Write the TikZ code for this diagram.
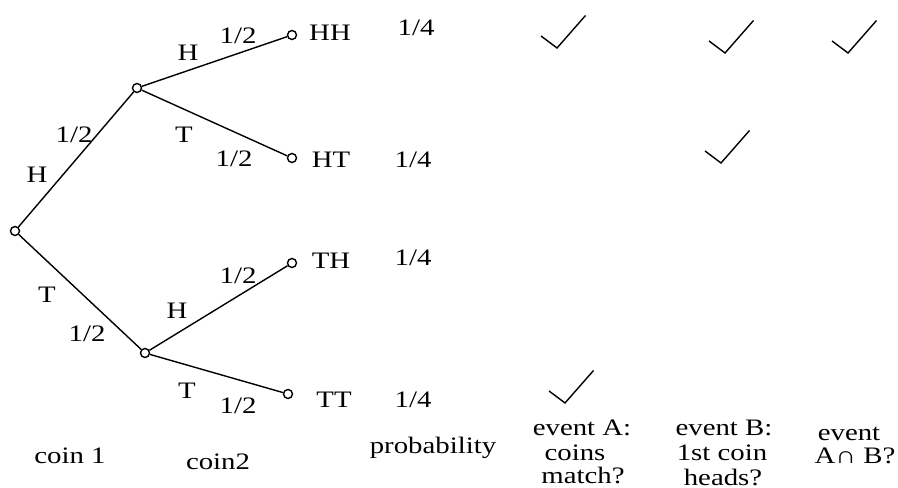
\documentclass[tikz,border=0pt]{standalone}
\usepackage{fontspec}
\setmainfont{Liberation Serif}[FakeStretch=1.22]
\begin{document}
\begin{tikzpicture}[x=0.5pt,y=-0.5pt,
  dot/.style={circle,draw,inner sep=0pt,minimum size=4.5pt,line width=0.7pt},
  edge/.style={line width=0.7pt},
  lbl/.style={anchor=base,inner sep=0pt,font=\fontsize{11.8}{13}\selectfont},
  checkmark/.pic={\draw[line width=0.7pt] (-16,-12) -- (0,0) -- (28.5,-32.5);}
]
\useasboundingbox (0,0) rectangle (898,487);
% tree nodes
\node[dot] (r) at (15,231) {};
\node[dot] (u) at (137,88) {};
\node[dot] (d) at (145,353) {};
\node[dot] (hh) at (292,35) {};
\node[dot] (ht) at (292,158) {};
\node[dot] (th) at (292,263) {};
\node[dot] (tt) at (288,394) {};
\draw[edge] (r) -- (u);
\draw[edge] (u) -- (hh);
\draw[edge] (u) -- (ht);
\draw[edge] (r) -- (d);
\draw[edge] (d) -- (th);
\draw[edge] (d) -- (tt);
% edge labels
\node[lbl] (l1) at (37,182) {H};
\node[lbl] (l2) at (74,142) {1/2};
\node[lbl] (l3) at (188,60) {H};
\node[lbl] (l4) at (238,43) {1/2};
\node[lbl] (l5) at (184,142) {T};
\node[lbl] (l6) at (234,166) {1/2};
\node[lbl] (l7) at (47,302) {T};
\node[lbl] (l8) at (87,341) {1/2};
\node[lbl] (l9) at (177,318) {H};
\node[lbl] (l10) at (238,283) {1/2};
\node[lbl] (l11) at (187,398) {T};
\node[lbl] (l12) at (238,413) {1/2};
% outcomes
\node[lbl] (o1) at (330,40) {HH};
\node[lbl] (o2) at (331,167) {HT};
\node[lbl] (o3) at (331,268) {TH};
\node[lbl] (o4) at (334,407) {TT};
% probabilities
\node[lbl] (p1) at (416,35) {1/4};
\node[lbl] (p2) at (413,167) {1/4};
\node[lbl] (p3) at (413,265) {1/4};
\node[lbl] (p4) at (413,407) {1/4};
% checkmarks
\pic at (557,48) {checkmark};
\pic at (725,53) {checkmark};
\pic at (848,53) {checkmark};
\pic at (721,163) {checkmark};
\pic at (565,403) {checkmark};
% column headers
\node[lbl] (c1) at (70,463) {coin 1};
\node[lbl] (c2) at (218,469) {coin2};
\node[lbl] (c3) at (433,453) {probability};
\node[lbl] (a1) at (582,435) {event A:};
\node[lbl] (a2) at (575,460) {coins};
\node[lbl] (a3) at (583,483) {match?};
\node[lbl] (b1) at (724,435) {event B:};
\node[lbl] (b2) at (722,460) {1st coin};
\node[lbl] (b3) at (723,485) {heads?};
\node[lbl] (n1) at (849,440) {event};
\node[lbl] (n2) at (855,463) {A∩ B?};
\end{tikzpicture}
\end{document}
